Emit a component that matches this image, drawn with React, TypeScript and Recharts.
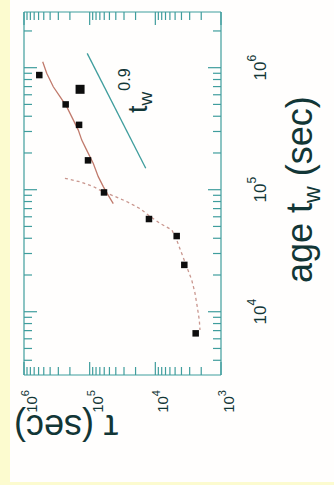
import React from 'react';
import { ScatterChart, Scatter, XAxis, YAxis } from 'recharts';

// age t_w (sec) on x, tau (sec) on y, both log; the whole chart is shown turned 90° left
const ageTicks = [4e3, 5e3, 6e3, 7e3, 8e3, 9e3, 1e4, 2e4, 3e4, 4e4, 5e4, 6e4, 7e4, 8e4, 9e4, 1e5, 2e5, 3e5, 4e5, 5e5, 6e5, 7e5, 8e5, 9e5, 1e6, 2e6];
const tauTicks = [1e3, 2e3, 3e3, 4e3, 5e3, 6e3, 7e3, 8e3, 9e3, 1e4, 2e4, 3e4, 4e4, 5e4, 6e4, 7e4, 8e4, 9e4, 1e5, 2e5, 3e5, 4e5, 5e5, 6e5, 7e5, 8e5, 9e5, 1e6];
const ageDomain = [3.03e3, 2.86e6];
const tauDomain = [1e3, 1e6];

// measured relaxation times
const pointAge = [8.7e5, 6.65e5, 5.0e5, 3.4e5, 1.74e5, 9.5e4, 5.75e4, 4.17e4, 2.42e4, 6.65e3];
const pointTau = [5.85e5, 1.4e5, 2.32e5, 1.45e5, 1.06e5, 6.05e4, 1.25e4, 4.73e3, 3.62e3, 2.43e3];

// solid red curve
const solidAge = [1.12e6, 9.0e5, 6.98e5, 5.78e5, 4.79e5, 3.72e5, 3.08e5, 2.55e5, 2.11e5, 1.64e5, 1.28e5, 1.06e5, 9.3e4, 7.7e4];
const solidTau = [5.19e5, 4.51e5, 3.58e5, 2.83e5, 2.24e5, 1.77e5, 1.49e5, 1.32e5, 1.11e5, 8.8e4, 7.4e4, 6.2e4, 5.4e4, 4.37e4];

// dashed red curve
const dashAge = [1.24e5, 1.16e5, 1.06e5, 9.6e4, 8.8e4, 8.0e4, 7.0e4, 6.2e4, 5.3e4, 4.68e4, 3.87e4, 3.01e4, 2.34e4, 1.82e4, 1.42e4, 1.1e4, 8.55e3, 7.08e3];
const dashTau = [2.38e5, 1.4e5, 8.8e4, 6.2e4, 4.11e4, 2.73e4, 1.71e4, 1.28e4, 8.5e3, 5.6e3, 4.73e3, 3.97e3, 3.33e3, 2.79e3, 2.49e3, 2.3e3, 2.14e3, 2.09e3];

// t_w^0.9 guide line and its label anchor
const powAge = [1.5e5, 1.31e6];
const powTau = [1.4e4, 1.09e5];
const powLabelAge = [4.26e5];
const powLabelTau = [1.34e4];

const zip = (a: number[], t: number[]) => a.map((age, i) => ({ age, tau: t[i] }));
const points = zip(pointAge, pointTau);
const solid = zip(solidAge, solidTau);
const dashed = zip(dashAge, dashTau);
const power = zip(powAge, powTau);
const powLabel = zip(powLabelAge, powLabelTau);

const TEAL = '#3f9d9d';
const INK = '#123636';
const FONT = '"Liberation Sans", Arial, Helvetica, sans-serif';

const isDecade = (v: number) => {
  const e = Math.log10(v);
  return Math.abs(e - Math.round(e)) < 1e-6;
};

function AxisTick(props: any) {
  const { x, y, payload, side } = props;
  const v = payload.value;
  const major = isDecade(v);
  const len = major ? 13 : 8;
  const exp = Math.round(Math.log10(v));
  let line = null;
  if (side === 'bottom') line = <line x1={x} y1={y} x2={x} y2={y - len} />;
  if (side === 'top') line = <line x1={x} y1={y} x2={x} y2={y + len} />;
  if (side === 'left') line = <line x1={x} y1={y} x2={x + len} y2={y} />;
  if (side === 'right') line = <line x1={x} y1={y} x2={x - len} y2={y} />;
  return (
    <g>
      <g stroke={TEAL} strokeWidth={1.2}>{line}</g>
      {major && side === 'bottom' && (
        <text x={x} y={y + 45} textAnchor="middle" fontSize={17} fill={INK} fontFamily={FONT}>
          10<tspan fontSize={12} dy={-10}>{exp}</tspan>
        </text>
      )}
      {major && side === 'left' && (
        <text x={x - 15} y={y + 13} textAnchor="end" fontSize={15} fill={INK} fontFamily={FONT}>
          10<tspan fontSize={11} dy={-8}>{exp}</tspan>
        </text>
      )}
    </g>
  );
}

function AgeLabel(props: any) {
  const vb = props.viewBox ?? { x: 110, y: 221, width: 363, height: 113 };
  return (
    <text x={vb.x + 92} y={vb.y + 91} textAnchor="start" fontSize={36} fill={INK} fontFamily={FONT}>
      age t<tspan fontSize={23} dy={8}>w</tspan>
      <tspan dy={-8}> (sec)</tspan>
    </text>
  );
}

function TauLabel(props: any) {
  const vb = props.viewBox ?? { x: 0, y: 24, width: 110, height: 197 };
  const x = vb.x + 70;
  const y = vb.y + 42;
  return (
    <text x={x} y={y} transform={`rotate(-90 ${x} ${y})`} textAnchor="middle" fontSize={36} fill={INK} fontFamily={FONT}>
      τ (sec)
    </text>
  );
}

function Square(props: any) {
  const { cx, cy, payload } = props;
  const s = payload && payload.age === pointAge[1] ? 9 : 6.5;
  return <rect x={cx - s / 2} y={cy - s / 2} width={s} height={s} fill="#0d0d0d" />;
}

const NoMark = () => <g />;

function PowText(props: any) {
  const { cx, cy } = props;
  return (
    <text x={cx} y={cy} fontSize={27} fill={INK} fontFamily={FONT}>
      t<tspan fontSize={19} dy={5}>w</tspan>
      <tspan fontSize={16} dx={1} dy={-22}>0.9</tspan>
    </text>
  );
}

export default function App() {
  return (
    <div style={{ position: 'fixed', left: 0, top: 0, width: 334, height: 485, background: '#fcfbcf', overflow: 'hidden' }}>
      <div style={{ position: 'absolute', left: 10, top: 0, width: 324, height: 482, background: '#fffefd' }} />
      <div
        style={{
          position: 'absolute',
          left: 0,
          top: 0,
          width: 485,
          height: 334,
          transformOrigin: '0 0',
          transform: 'translateY(485px) rotate(-90deg)',
        }}
      >
        <ScatterChart width={485} height={334} margin={{ top: 0, right: 0, bottom: 0, left: 0 }} style={{ fontFamily: FONT }}>
          <XAxis
            dataKey="age"
            type="number"
            scale="log"
            domain={ageDomain}
            allowDataOverflow
            ticks={ageTicks}
            interval={0}
            height={113}
            tickSize={0}
            tickMargin={0}
            tickLine={false}
            axisLine={{ stroke: TEAL, strokeWidth: 1.2 }}
            tick={<AxisTick side="bottom" />}
            label={<AgeLabel />}
          />
          <XAxis
            xAxisId="top"
            orientation="top"
            dataKey="age"
            type="number"
            scale="log"
            domain={ageDomain}
            allowDataOverflow
            ticks={ageTicks}
            interval={0}
            height={24}
            tickSize={0}
            tickMargin={0}
            tickLine={false}
            axisLine={{ stroke: TEAL, strokeWidth: 1.2 }}
            tick={<AxisTick side="top" />}
          />
          <YAxis
            dataKey="tau"
            type="number"
            scale="log"
            domain={tauDomain}
            allowDataOverflow
            ticks={tauTicks}
            interval={0}
            width={110}
            tickSize={0}
            tickMargin={0}
            tickLine={false}
            axisLine={{ stroke: TEAL, strokeWidth: 1.2 }}
            tick={<AxisTick side="left" />}
            label={<TauLabel />}
          />
          <YAxis
            yAxisId="right"
            orientation="right"
            dataKey="tau"
            type="number"
            scale="log"
            domain={tauDomain}
            allowDataOverflow
            ticks={tauTicks}
            interval={0}
            width={12}
            tickSize={0}
            tickMargin={0}
            tickLine={false}
            axisLine={{ stroke: TEAL, strokeWidth: 1.2 }}
            tick={<AxisTick side="right" />}
          />
          <Scatter data={dashed} line={{ stroke: '#c9968e', strokeWidth: 1.3, strokeDasharray: '3 3' }} shape={NoMark} isAnimationActive={false} />
          <Scatter data={solid} line={{ stroke: '#c07a6c', strokeWidth: 1.3 }} shape={NoMark} isAnimationActive={false} />
          <Scatter data={power} line={{ stroke: TEAL, strokeWidth: 1.3 }} shape={NoMark} isAnimationActive={false} />
          <Scatter data={points} shape={Square} isAnimationActive={false} />
          <Scatter data={powLabel} shape={PowText} isAnimationActive={false} />
        </ScatterChart>
      </div>
    </div>
  );
}
